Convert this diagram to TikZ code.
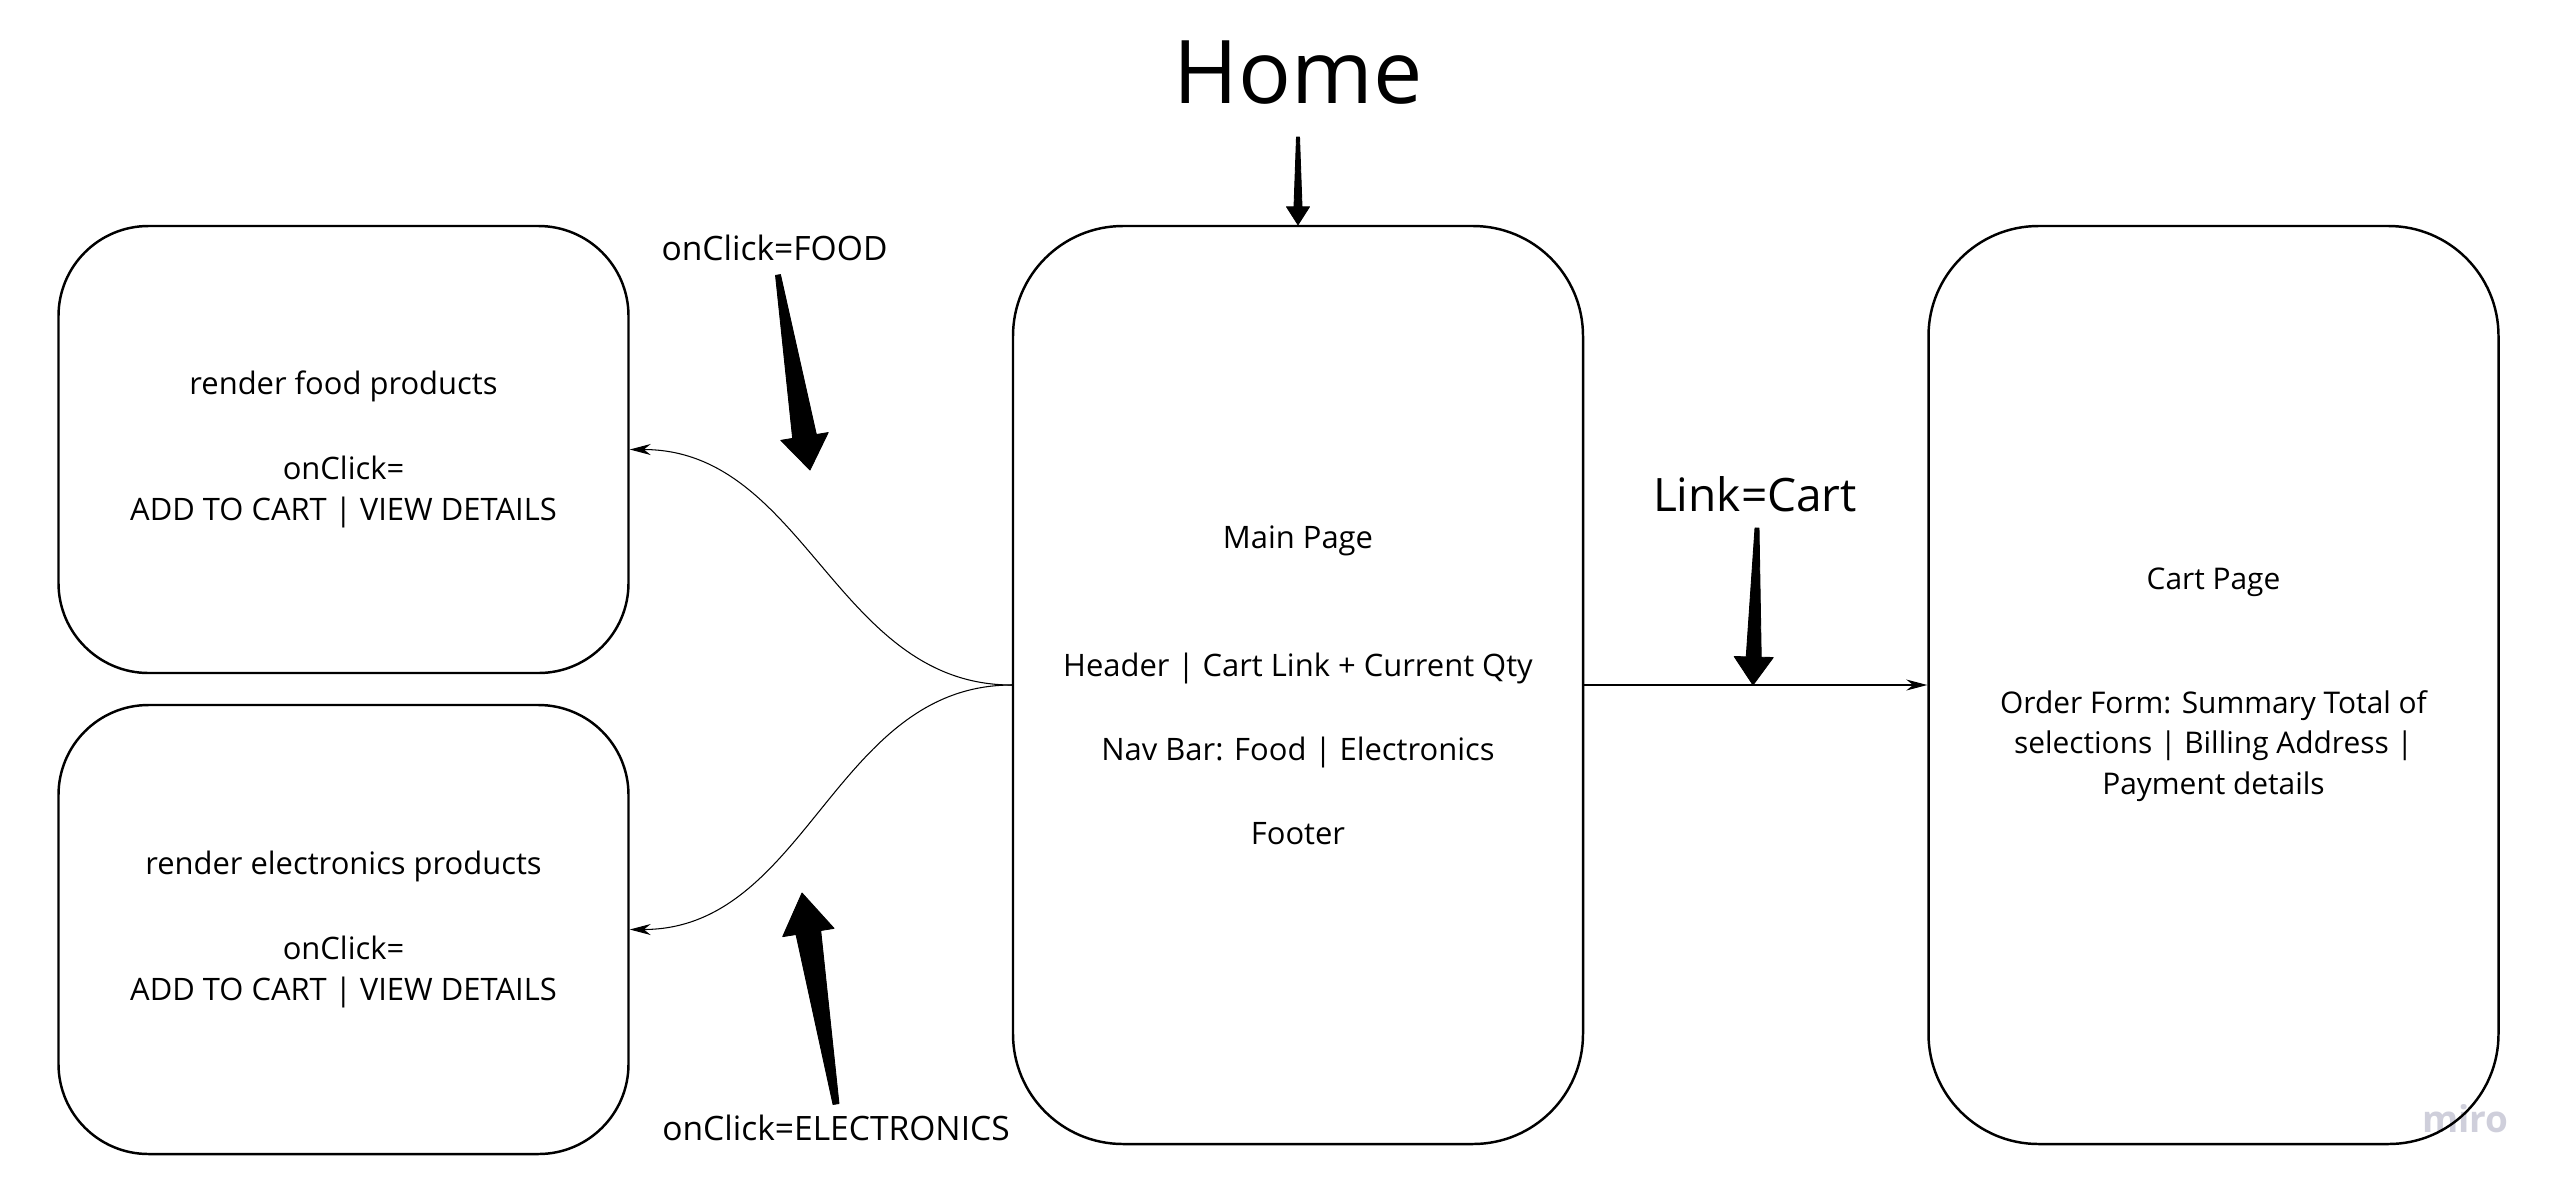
\documentclass[tikz,border=0pt]{standalone}
\usepackage{fontspec}
\setmainfont{Open Sans}
\usetikzlibrary{arrows.meta,calc}

\definecolor{mirogray}{HTML}{CFCFDB}

% tapered arrow: tail, tip, tail half width, shaft half width, head half width, head length
\newcommand{\fatarrow}[6]{%
	\path ($(#2)!#6!(#1)$) coordinate (fa-base);
	\filldraw[line join=round, line width=0.5pt]
		($(#1)!#3!90:(#2)$) -- ($(fa-base)!#4!90:(#2)$) -- ($(fa-base)!#5!90:(#2)$) -- (#2)
		-- ($(fa-base)!#5!-90:(#2)$) -- ($(fa-base)!#4!-90:(#2)$) -- ($(#1)!#3!-90:(#2)$) -- cycle;
}

\tikzset{
	page/.style={draw, line width=1.4pt, rounded corners=1.8cm, minimum width=11.4cm,
		align=center, font=\fontsize{17.6}{23.2}\selectfont},
	event/.style={anchor=base, font=\fontsize{19.1}{22}\selectfont},
	link/.style={line width=0.6pt, -{Stealth[length=0.42cm, width=0.22cm]}}
}

\begin{document}
\begin{tikzpicture}
			\useasboundingbox (0,0) rectangle (51.32,-23.86);

			\node[anchor=base, font=\fontsize{50}{50}\selectfont] (home) at (25.96,-2.06) {Home};

			\node[text=mirogray, anchor=base, font=\bfseries\fontsize{21}{21}\selectfont] (miro) at (49.31,-22.64) {miro};

			\node[page, minimum height=8.94cm] (food) at (6.87,-8.99)
				{render food products\\[25pt]onClick=\\ADD TO CART | VIEW DETAILS};
			\node[page, minimum height=8.98cm] (elec) at (6.87,-18.59)
				{render electronics products\\[25pt]onClick=\\ADD TO CART | VIEW DETAILS};

			\node[page, rounded corners=2.2cm, minimum height=18.36cm] (main) at (25.96,-13.70)
				{Main Page\\[49.6pt]Header | Cart Link + Current Qty\\[24.6pt]Nav Bar: Food | Electronics\\[24.6pt]Footer};
			\node[page, rounded corners=2.2cm, minimum height=18.36cm, font=\fontsize{17}{23.2}\selectfont] (cart) at (44.27,-13.70)
				{Cart Page\\[47pt]Order Form: Summary Total of\\selections | Billing Address |\\Payment details};

			\node[event] (food-event) at (15.49,-5.20) {onClick=FOOD};
			\node[event] (elec-event) at (16.72,-22.80) {onClick=ELECTRONICS};
			\node[anchor=base, font=\fontsize{26.2}{30}\selectfont] (cart-link) at (35.10,-10.22) {Link=Cart};

			\coordinate (home-tail) at (25.96,-2.74);
			\coordinate (food-tail) at (15.56,-5.50);
			\coordinate (food-tip) at (16.20,-9.40);
			\coordinate (elec-tail) at (16.72,-22.08);
			\coordinate (elec-tip) at (16.04,-17.86);
			\coordinate (link-tail) at (35.14,-10.56);
			\coordinate (link-tip) at (35.06,-13.70);

			\draw[link] (main.west) to[out=180, in=0] (food.east);
			\draw[link] (main.west) to[out=180, in=0] (elec.east);
			\draw[link] (main.east) -- (cart.west);

			\fatarrow{home-tail}{main.north}{0.03cm}{0.08cm}{0.23cm}{0.36cm}
			\fatarrow{food-tail}{food-tip}{0.05cm}{0.24cm}{0.48cm}{0.68cm}
			\fatarrow{elec-tail}{elec-tip}{0.06cm}{0.25cm}{0.52cm}{0.8cm}
			\fatarrow{link-tail}{link-tip}{0.04cm}{0.15cm}{0.39cm}{0.56cm}
\end{tikzpicture}
\end{document}
